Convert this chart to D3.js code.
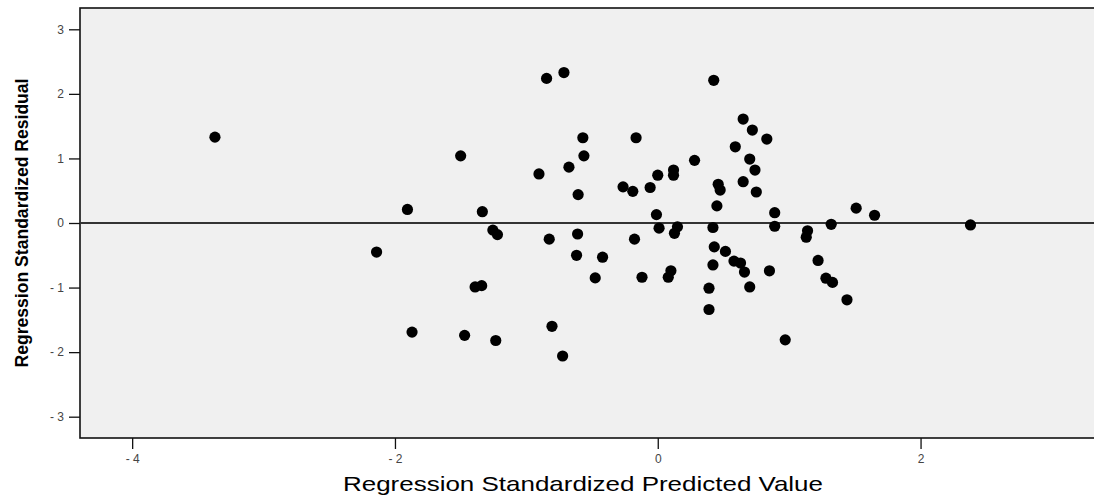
<!DOCTYPE html>
<html>
<head>
<meta charset="utf-8">
<script src="https://cdn.jsdelivr.net/npm/d3@7"></script>
<style>
  body { margin: 0; background: #fff; }
  svg text { font-family: "Liberation Sans Narrow", "Liberation Sans", Arial, sans-serif; }
</style>
</head>
<body>
<div id="chart"></div>
<script>
// standardized predicted values (x) and standardized residuals (y)
var predicted = [-3.37, -2.14, -1.905, -1.87, -1.50, -1.47, -1.335, -1.39, -1.34, -1.255, -1.22, -1.233,
  -0.904, -0.846, -0.826, -0.805, -0.724, -0.714, -0.676, -0.618, -0.61, -0.606, -0.57, -0.562,
  -0.476, -0.42, -0.264, -0.19, -0.177, -0.165, -0.12, -0.058, -0.01, 0.0, 0.01, 0.10, 0.08,
  0.12, 0.12, 0.127, 0.15, 0.28, 0.39, 0.39, 0.42, 0.42, 0.43, 0.426, 0.45, 0.46, 0.475, 0.515,
  0.58, 0.63, 0.66, 0.59, 0.65, 0.65, 0.70, 0.70, 0.72, 0.74, 0.75, 0.83, 0.85, 0.89, 0.89,
  0.97, 1.14, 1.13, 1.22, 1.28, 1.33, 1.32, 1.44, 1.51, 1.65, 2.38];
var residual = [1.33, -0.45, 0.21, -1.69, 1.04, -1.74, 0.175, -0.99, -0.97, -0.11, -0.18, -1.82,
  0.76, 2.24, -0.25, -1.60, -2.06, 2.33, 0.865, -0.50, -0.17, 0.44, 1.32, 1.04,
  -0.85, -0.53, 0.56, 0.49, -0.25, 1.32, -0.84, 0.55, 0.13, 0.74, -0.08, -0.74, -0.84,
  0.82, 0.74, -0.16, -0.06, 0.97, -1.01, -1.34, -0.07, -0.65, -0.37, 2.21, 0.265, 0.60, 0.51, -0.44,
  -0.59, -0.62, -0.76, 1.18, 1.61, 0.64, 0.99, -0.99, 1.44, 0.82, 0.48, 1.30, -0.74, 0.16, -0.05,
  -1.81, -0.12, -0.22, -0.58, -0.855, -0.92, -0.02, -1.19, 0.23, 0.12, -0.03];
var xTicks = [-4, -2, 0, 2];
var yTicks = [-3, -2, -1, 0, 1, 2, 3];

var w = 1094, h = 497;
var plot = { left: 80, top: 8, right: 1094, bottom: 438 };

var svg = d3.select("#chart").append("svg")
  .attr("width", w)
  .attr("height", h);

var x = d3.scaleLinear().domain([-4.397, 3.32]).range([plot.left, plot.right]);
var y = d3.scaleLinear().domain([-3.33, 3.33]).range([plot.bottom, plot.top]);

// grey plot background + frame (right edge falls outside the picture)
svg.append("rect")
  .attr("x", plot.left)
  .attr("y", plot.top)
  .attr("width", plot.right - plot.left + 4)
  .attr("height", plot.bottom - plot.top)
  .attr("fill", "#f0f0f0")
  .attr("stroke", "#111")
  .attr("stroke-width", 1.6);

// zero reference line
svg.append("line")
  .attr("x1", plot.left)
  .attr("x2", plot.right)
  .attr("y1", y(0))
  .attr("y2", y(0))
  .attr("stroke", "#333")
  .attr("stroke-width", 2);

var fmt = function (d) { return d < 0 ? "- " + Math.abs(d) : String(d); };

var xAxis = svg.append("g")
  .attr("transform", "translate(0," + plot.bottom + ")")
  .call(d3.axisBottom(x).tickValues(xTicks).tickFormat(fmt).tickSize(11).tickPadding(5));
var yAxis = svg.append("g")
  .attr("transform", "translate(" + plot.left + ",0)")
  .call(d3.axisLeft(y).tickValues(yTicks).tickFormat(fmt).tickSize(11).tickPadding(5));

[xAxis, yAxis].forEach(function (g) {
  g.select(".domain").remove();
  g.selectAll(".tick line").attr("stroke", "#111").attr("stroke-width", 1.3);
  g.selectAll(".tick text")
    .attr("fill", "#444")
    .style("font-size", "12px")
    .style("font-family", "'Liberation Sans', Arial, sans-serif");
});

// points
svg.append("g")
  .selectAll("circle")
  .data(predicted.map(function (d, i) { return [d, residual[i]]; }))
  .enter()
  .append("circle")
  .attr("cx", function (d) { return x(d[0]); })
  .attr("cy", function (d) { return y(d[1]); })
  .attr("r", 5.6)
  .attr("fill", "#000");

// axis titles (stretched to the width they take in the original)
svg.append("text")
  .attr("x", 583)
  .attr("y", 491)
  .attr("text-anchor", "middle")
  .attr("textLength", 480)
  .attr("lengthAdjust", "spacingAndGlyphs")
  .style("font-size", "21px")
  .attr("fill", "#000")
  .text("Regression Standardized Predicted Value");

svg.append("text")
  .attr("transform", "translate(28," + y(0) + ") rotate(-90)")
  .attr("text-anchor", "middle")
  .attr("textLength", 289)
  .attr("lengthAdjust", "spacingAndGlyphs")
  .style("font-size", "19px")
  .style("font-weight", "bold")
  .attr("fill", "#000")
  .text("Regression Standardized Residual");
</script>
</body>
</html>
